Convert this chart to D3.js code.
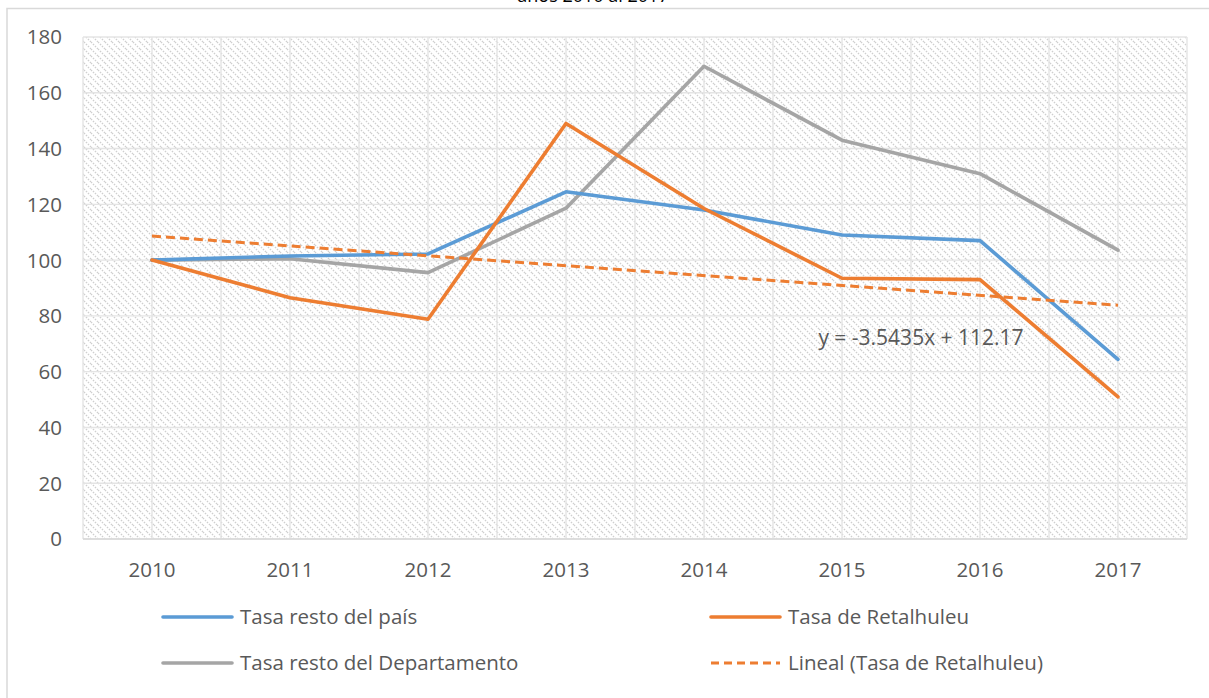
<!DOCTYPE html>
<html>
<head>
<meta charset="utf-8">
<script src="https://cdn.jsdelivr.net/npm/d3@7"></script>
<style>
  html, body { margin: 0; padding: 0; background: #fff; }
  svg { display: block; font-family: "Open Sans", "Liberation Sans", sans-serif; }
</style>
</head>
<body>
<svg id="chart" width="1209" height="698"></svg>
<script>
// ---- data ----
const years = ['2010', '2011', '2012', '2013', '2014', '2015', '2016', '2017'];
const restoPais = [100, 101.5, 102.2, 124.5, 118, 109, 107, 64.4];
const retalhuleu = [100, 86.5, 78.8, 149, 118.5, 93.5, 93, 51];
const restoDepto = [100, 100.5, 95.5, 118.6, 169.5, 143, 131, 103.6];
const trendSlope = -3.5435, trendIntercept = 112.17;
const yTicks = [0, 20, 40, 60, 80, 100, 120, 140, 160, 180];

const BLUE = '#5b9bd5', ORANGE = '#ed7d31', GRAY = '#a5a5a5', TXT = '#595959';
const FS = 20.5;

const svg = d3.select('#chart');
const m = { l: 83, r: 1187, t: 37, b: 539 };

// outer chart frame (only top and left visible)
svg.append('path').attr('d', `M7,1000V8.5H1300`)
  .attr('fill', 'none').attr('stroke', '#d9d9d9').attr('stroke-width', 1.5);

// title, mostly cut off at the top
svg.append('text').attr('x', 593).attr('y', 2).attr('text-anchor', 'middle')
  .attr('font-size', 18).attr('fill', '#000').text('años 2010 al 2017');

const x = d3.scaleBand().domain(years).range([m.l, m.r]);
const y = d3.scaleLinear().domain([0, 180]).range([m.b, m.t]);
const cx = d => x(d) + x.bandwidth() / 2;

// hatched plot background
const defs = svg.append('defs');
const pat = defs.append('pattern').attr('id', 'hatch')
  .attr('patternUnits', 'userSpaceOnUse').attr('width', 7).attr('height', 7);
pat.append('path').attr('d', 'M-1,6 l2,2 M0,0 l7,7 M6,-1 l2,2')
  .attr('stroke', '#cfcfcf').attr('stroke-width', 1.4).attr('stroke-dasharray', '1.5,1.3');
svg.append('rect').attr('x', m.l).attr('y', m.t)
  .attr('width', m.r - m.l).attr('height', m.b - m.t).attr('fill', 'url(#hatch)');

// gridlines
const grid = svg.append('g').attr('stroke', '#e4e4e4').attr('stroke-width', 1.4);
yTicks.forEach(t => {
  grid.append('line').attr('x1', m.l).attr('x2', m.r).attr('y1', y(t)).attr('y2', y(t));
});
years.forEach(yr => {
  grid.append('line').attr('x1', x(yr)).attr('x2', x(yr)).attr('y1', m.t).attr('y2', m.b);
  grid.append('line').attr('x1', cx(yr)).attr('x2', cx(yr)).attr('y1', m.t).attr('y2', m.b);
});
grid.append('line').attr('x1', m.r).attr('x2', m.r).attr('y1', m.t).attr('y2', m.b);
svg.append('line').attr('x1', m.l).attr('x2', m.r).attr('y1', m.b).attr('y2', m.b)
  .attr('stroke', '#d9d9d9').attr('stroke-width', 1.4);

// axes
const yAxis = svg.append('g').attr('transform', `translate(${m.l - 21},0)`)
  .call(d3.axisLeft(y).tickValues(yTicks).tickSize(0).tickPadding(0));
yAxis.select('.domain').remove();
yAxis.selectAll('text').attr('font-size', FS).attr('fill', TXT).attr('dy', '0.34em')
  .style('font-family', '"Open Sans", sans-serif');

const xAxis = svg.append('g').attr('transform', `translate(0,${m.b})`)
  .call(d3.axisBottom(x).tickSize(0).tickPadding(0));
xAxis.select('.domain').remove();
xAxis.selectAll('text').attr('font-size', FS).attr('fill', TXT).attr('y', 38).attr('dy', 0)
  .style('font-family', '"Open Sans", sans-serif');

// series
const line = d3.line().x((d, i) => cx(years[i])).y(d => y(d));
[[restoDepto, GRAY], [restoPais, BLUE], [retalhuleu, ORANGE]].forEach(([vals, col]) => {
  svg.append('path').datum(vals).attr('d', line)
    .attr('fill', 'none').attr('stroke', col).attr('stroke-width', 3.6)
    .attr('stroke-linejoin', 'round').attr('stroke-linecap', 'round');
});

// linear trend of Retalhuleu
const trendVals = years.map((yr, i) => trendSlope * (i + 1) + trendIntercept);
svg.append('path').datum([trendVals[0], trendVals[trendVals.length - 1]])
  .attr('d', d3.line().x((d, i) => cx(years[i * (years.length - 1)])).y(d => y(d)))
  .attr('fill', 'none').attr('stroke', ORANGE).attr('stroke-width', 3)
  .attr('stroke-dasharray', '9,5');

svg.append('text').attr('x', 921).attr('y', 345).attr('text-anchor', 'middle')
  .attr('font-size', 21).attr('fill', TXT).text('y = -3.5435x + 112.17');

// legend
const legend = [
  { label: 'Tasa resto del país', color: BLUE, x: 163, y: 617, dash: null },
  { label: 'Tasa de Retalhuleu', color: ORANGE, x: 711, y: 617, dash: null },
  { label: 'Tasa resto del Departamento', color: GRAY, x: 163, y: 663, dash: null },
  { label: 'Lineal (Tasa de Retalhuleu)', color: ORANGE, x: 711, y: 663, dash: '8,5' }
];
legend.forEach(d => {
  svg.append('line').attr('x1', d.x).attr('x2', d.x + 69).attr('y1', d.y).attr('y2', d.y)
    .attr('stroke', d.color).attr('stroke-width', d.dash ? 3 : 3.6)
    .attr('stroke-linecap', d.dash ? 'butt' : 'round')
    .attr('stroke-dasharray', d.dash);
  svg.append('text').attr('x', d.x + 77).attr('y', d.y).attr('dy', '0.35em')
    .attr('font-size', FS).attr('fill', TXT).text(d.label);
});
</script>
</body>
</html>
